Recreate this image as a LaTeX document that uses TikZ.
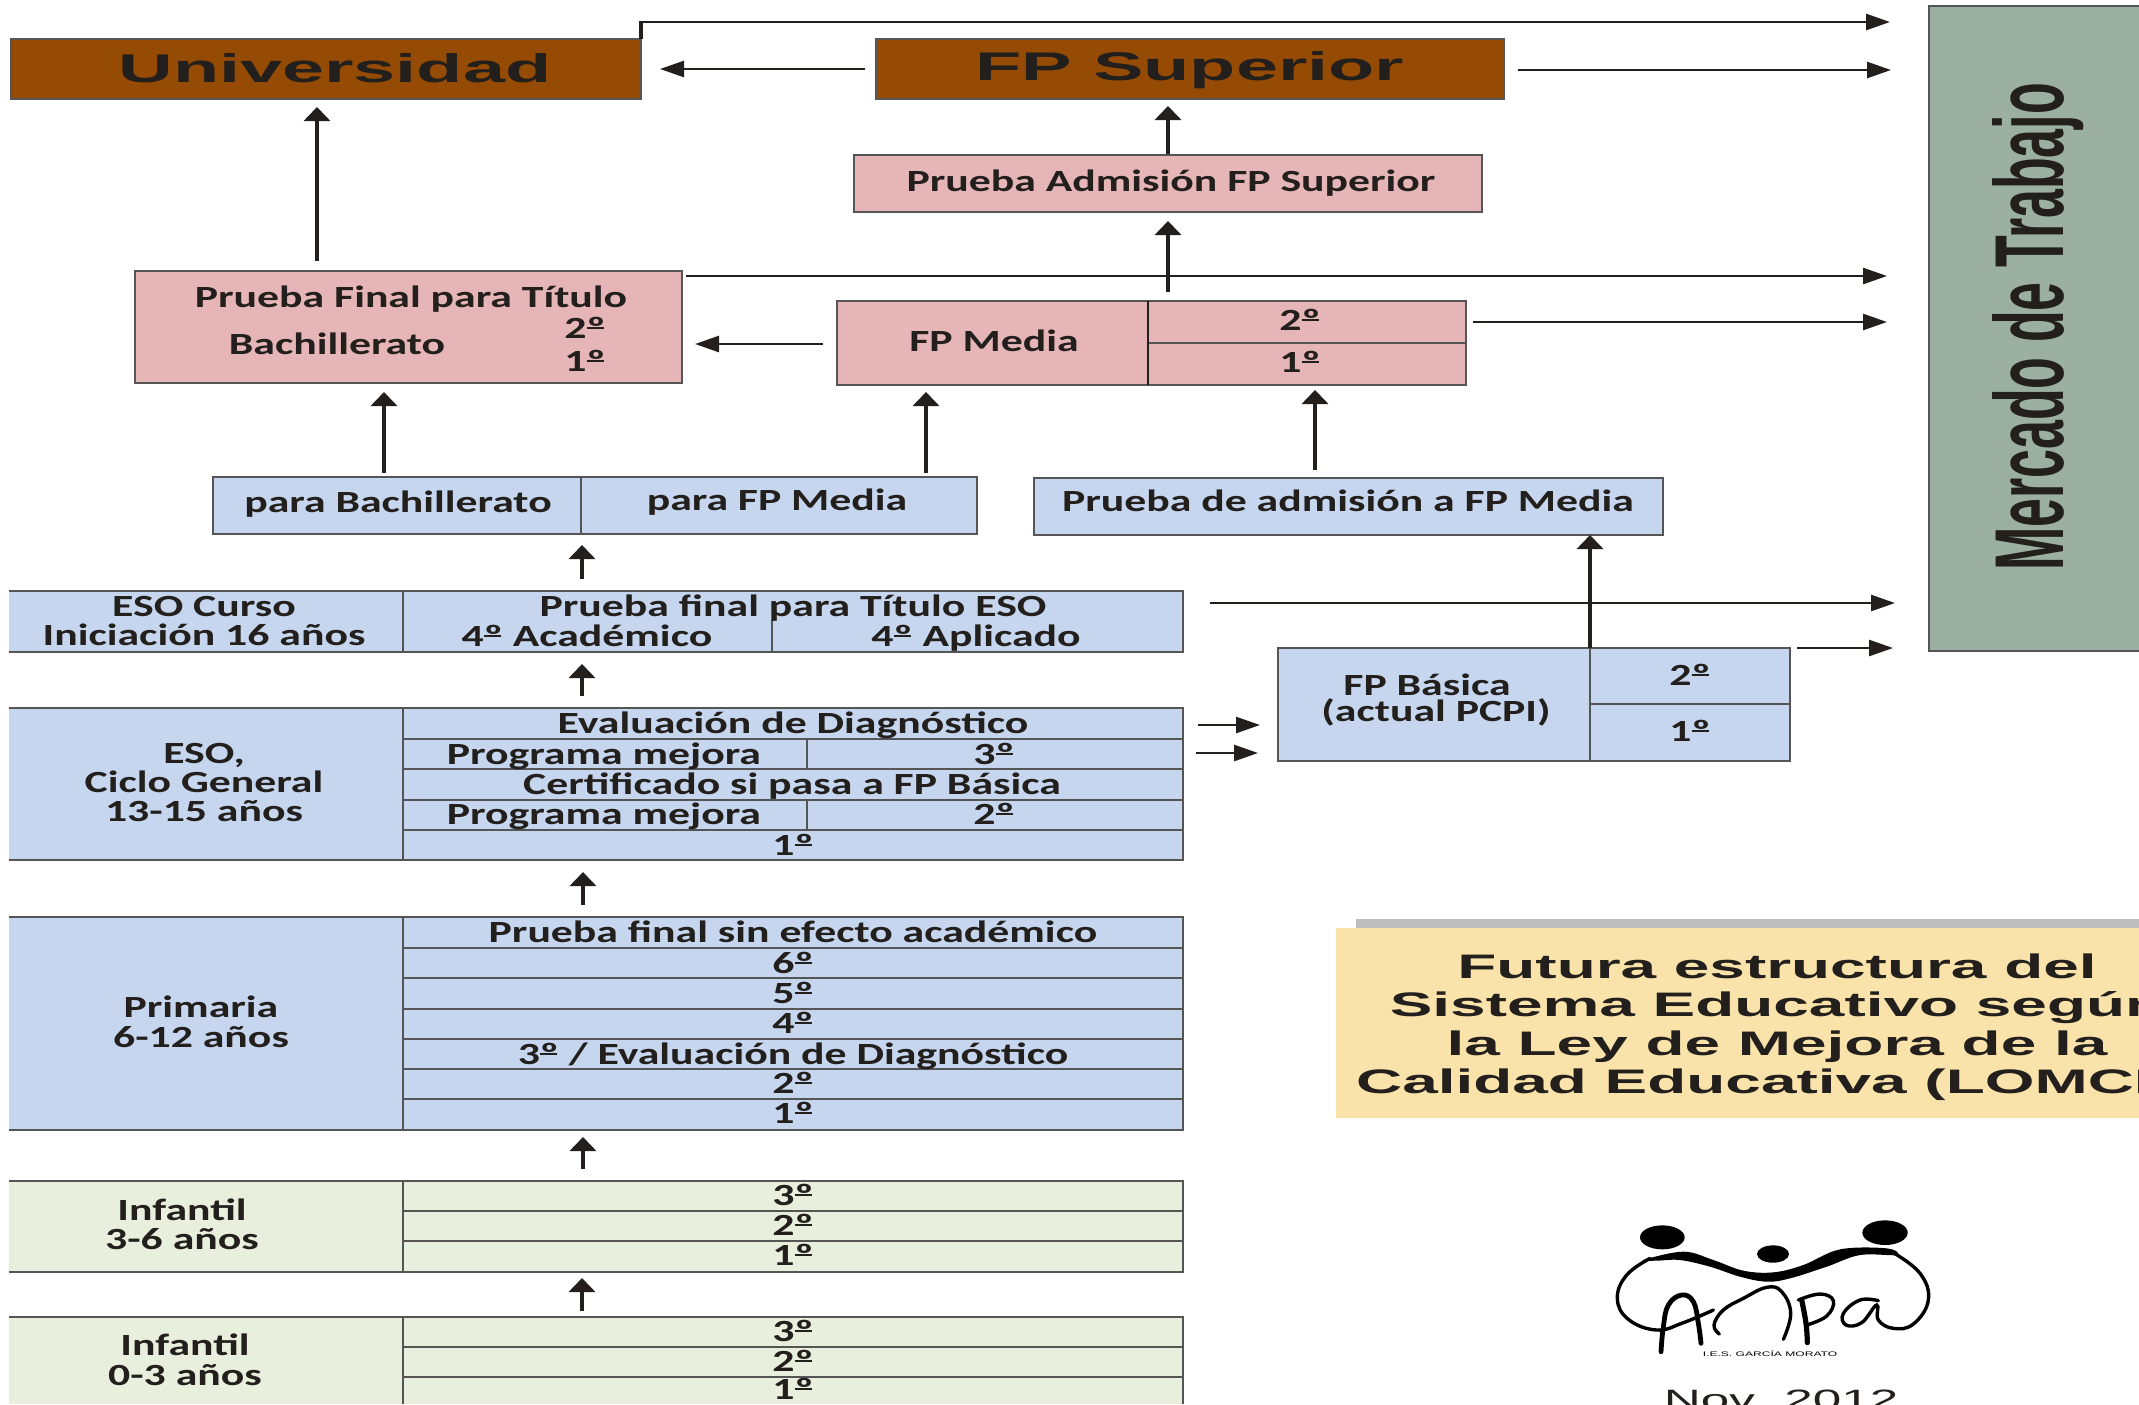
\documentclass[tikz,border=0pt]{standalone}
\usepackage{fontspec}
\usepackage{graphicx}
\setmainfont{Carlito}
\newfontfamily\bodyfont[FakeStretch=1.42,BoldFont={Carlito Bold}]{Carlito}
\newfontfamily\headfont[FakeStretch=1.89]{Liberation Sans Bold}
\newfontfamily\titlefont[FakeStretch=1.88]{Liberation Sans Bold}
\newfontfamily\datefont[FakeStretch=1.83]{Liberation Sans}
\newfontfamily\sidefont{Liberation Sans Bold}
\usetikzlibrary{arrows.meta}
\definecolor{brownbox}{HTML}{964B05}
\definecolor{pinkbox}{HTML}{E5B5B7}
\definecolor{bluebox}{HTML}{C5D6EE}
\definecolor{greenbox}{HTML}{E8EFDC}
\definecolor{sagebox}{HTML}{9BB0A0}
\definecolor{creambox}{HTML}{F9E3AB}
\definecolor{greybar}{HTML}{BEBEBE}
\definecolor{ink}{HTML}{231F1C}
\definecolor{rule}{HTML}{555555}
% ordinal sign with its bar, as the picture prints it
\newcommand{\ordn}{º\kern-.62em\rule[.30em]{.56em}{.06em}\kern.06em}
\tikzset{
  x=0.5pt,y=-0.5pt,
  panel/.style={draw=rule,line width=0.7pt},
  rowline/.style={rule,line width=0.65pt},
  lab/.style={anchor=base,inner sep=0pt,outer sep=0pt,yshift=-0.7pt,text=ink,font=\bodyfont\bfseries\fontsize{15.4}{17}\selectfont},
  head/.style={anchor=base,inner sep=0pt,outer sep=0pt,text=ink,font=\headfont\fontsize{20}{24}\selectfont},
  title/.style={anchor=base,inner sep=0pt,outer sep=0pt,text=ink,font=\titlefont\fontsize{17}{20}\selectfont},
  flow/.style={ink,line width=2pt,-{Triangle[length=7pt,width=13pt]}},
  side flow/.style={ink,line width=1.3pt,-{Triangle[length=12pt,width=8pt]}},
}
\begin{document}
\begin{tikzpicture}
\useasboundingbox (0,0) rectangle (2139,1404);
\clip (0,0) rectangle (2139,1404);
\fill[white] (0,0) rectangle (2139,1404);

% Mercado de Trabajo
\fill[sagebox] (1929,6) rectangle (2139,651);
\draw[rule,line width=0.7pt] (2139,6) -- (1929,6) -- (1929,651) -- (2139,651);
\node[inner sep=0pt,rotate=90,anchor=base,text=ink] (mercado) at (2063,327)
  {\scalebox{0.53}[1]{\sidefont\fontsize{49}{50}\selectfont Mercado de Trabajo}};

% brown boxes
\path[fill=brownbox,panel] (11,39) rectangle (641,99);
\coordinate (uniNE) at (641,39);
\node[head] (uni) at (335,82) {Universidad};
\path[fill=brownbox,panel] (876,39) rectangle (1504,99);
\node[head] (fps) at (1190,80) {FP Superior};

% Prueba admision
\path[fill=pinkbox,panel] (854,155) rectangle (1482,212);
\node[lab] (pas) at (1171,190) {Prueba Admisión FP Superior};

% Prueba final / Bachillerato
\path[fill=pinkbox,panel] (135,271) rectangle (682,383);
\node[lab] (pf) at (411,306) {Prueba Final para Título};
\node[lab] (bach) at (337,353) {Bachillerato};
\node[lab] (b2) at (585,337) {2\ordn};
\node[lab] (b1) at (585,370) {1\ordn};

% FP Media
\path[fill=pinkbox,panel] (837,301) rectangle (1466,385);
\draw[rowline] (1148,343) -- (1466,343);
\draw[ink,line width=1.2pt] (1148,301) -- (1148,385);
\node[lab] (fpm) at (994,350) {FP Media};
\node[lab] (m2) at (1300,329) {2\ordn};
\node[lab] (m1) at (1300,371) {1\ordn};

% para ...
\path[fill=bluebox,panel] (213,477) rectangle (977,534);
\draw[rowline] (581,477) -- (581,534);
\node[lab] (pb) at (398,511) {para Bachillerato};
\node[lab] (pm) at (777,509) {para FP Media};
\path[fill=bluebox,panel] (1034,478) rectangle (1663,535);
\node[lab] (pa) at (1348,510) {Prueba de admisión a FP Media};

% ESO 4
\fill[bluebox] (9,591) rectangle (1183,652);
\draw[panel] (9,591) -- (1183,591) -- (1183,652) -- (9,652);
\draw[rowline] (403,591) -- (403,652);
\draw[rowline] (772,620) -- (772,652);
\node[lab] (e1) at (204,615) {ESO Curso};
\node[lab] (e2) at (204,644) {Iniciación 16 años};
\node[lab] (e3) at (793,615) {Prueba final para Título ESO};
\node[lab] (e4) at (587,645) {4\ordn{} Académico};
\node[lab] (e5) at (976,645) {4\ordn{} Aplicado};

% ESO general
\fill[bluebox] (9,708) rectangle (1183,860);
\draw[panel] (9,708) -- (1183,708) -- (1183,860) -- (9,860);
\draw[rowline] (403,708) -- (403,860);
\foreach \yy in {739,769,800,830} \draw[rowline] (403,\yy) -- (1183,\yy);
\draw[rowline] (807,739) -- (807,769);
\draw[rowline] (807,800) -- (807,830);
\node[lab] (g1) at (204,762) {ESO,};
\node[lab] (g2) at (204,791) {Ciclo General};
\node[lab] (g3) at (204,820) {13-15 años};
\node[lab] (g4) at (793,732) {Evaluación de Diagnóstico};
\node[lab] (g5) at (604,763) {Programa mejora};
\node[lab] (g6) at (994,763) {3\ordn};
\node[lab] (g7) at (792,793) {Certificado si pasa a FP Básica};
\node[lab] (g8) at (604,823) {Programa mejora};
\node[lab] (g9) at (994,823) {2\ordn};
\node[lab] (g10) at (793,854) {1\ordn};

% Primaria
\fill[bluebox] (9,917) rectangle (1183,1130);
\draw[panel] (9,917) -- (1183,917) -- (1183,1130) -- (9,1130);
\draw[rowline] (403,917) -- (403,1130);
\foreach \yy in {948,978,1009,1039,1069,1099} \draw[rowline] (403,\yy) -- (1183,\yy);
\node[lab] (p1) at (201,1016) {Primaria};
\node[lab] (p2) at (201,1046) {6-12 años};
\node[lab] (p3) at (793,941) {Prueba final sin efecto académico};
\node[lab] (p4) at (793,972) {6\ordn};
\node[lab] (p5) at (793,1002) {5\ordn};
\node[lab] (p6) at (793,1032) {4\ordn};
\node[lab] (p7) at (793,1063) {3\ordn{} / Evaluación de Diagnóstico};
\node[lab] (p8) at (793,1092) {2\ordn};
\node[lab] (p9) at (793,1122) {1\ordn};

% Infantil 3-6
\fill[greenbox] (9,1181) rectangle (1183,1272);
\draw[panel] (9,1181) -- (1183,1181) -- (1183,1272) -- (9,1272);
\draw[rowline] (403,1181) -- (403,1272);
\foreach \yy in {1211,1241} \draw[rowline] (403,\yy) -- (1183,\yy);
\node[lab] (i1) at (182,1219) {Infantil};
\node[lab] (i2) at (182,1248) {3-6 años};
\node[lab] (i3) at (793,1204) {3\ordn};
\node[lab] (i4) at (793,1234) {2\ordn};
\node[lab] (i5) at (793,1264) {1\ordn};

% Infantil 0-3
\fill[greenbox] (9,1317) rectangle (1183,1404);
\draw[panel] (9,1317) -- (1183,1317) -- (1183,1404);
\draw[rowline] (403,1317) -- (403,1404);
\foreach \yy in {1347,1377} \draw[rowline] (403,\yy) -- (1183,\yy);
\node[lab] (j1) at (185,1354) {Infantil};
\node[lab] (j2) at (185,1384) {0-3 años};
\node[lab] (j3) at (793,1340) {3\ordn};
\node[lab] (j4) at (793,1370) {2\ordn};
\node[lab] (j5) at (793,1398) {1\ordn};

% FP Basica
\path[fill=bluebox,panel] (1278,648) rectangle (1790,761);
\draw[rowline] (1590,648) -- (1590,761);
\draw[rowline] (1590,704) -- (1790,704);
\node[lab] (f1) at (1427,694) {FP Básica};
\node[lab] (f2) at (1436,720) {(actual PCPI)};
\node[lab] (f3) at (1690,684) {2\ordn};
\node[lab] (f4) at (1690,740) {1\ordn};

% free ends of connectors
\foreach \n/\xx/\yy in {mA/1890/22,mB/1891/70,mC/1887/276,mD/1887/322,mE/1895/603,mF/1893/648,
  a/641/22,sA/1518/70,sB/686/276,sC/1473/322,sD/1210/603,sE/1797/648,
  lA/865/69,lB/660/69,lC/823/344,lD/695/344,
  uA/317/261,uB/317/107,uC/1168/154,uD/1168/106,uE/1168/292,uF/1168/221,
  uG/384/473,uH/384/392,uI/926/473,uJ/926/392,uK/1315/470,uL/1315/390,
  uM/582/579,uN/582/545,uO/582/696,uP/582/664,uQ/583/905,uR/583/872,
  uS/583/1169,uT/583/1137,uU/582/1311,uV/582/1278,uW/1590/648,uX/1590/535,
  rA/1198/725,rB/1260/725,rC/1196/753,rD/1258/753}
  \coordinate (\n) at (\xx,\yy);

% connectors
\draw[ink,line width=2pt] (uniNE) -- (a);
\draw[side flow] (a) ++(-2,0) -- (mA);
\draw[side flow] (sA) -- (mB);
\draw[side flow] (lA) -- (lB);
\draw[flow] (uA) -- (uB);
\draw[flow] (uC) -- (uD);
\draw[side flow] (sB) -- (mC);
\draw[flow] (uE) -- (uF);
\draw[side flow] (sC) -- (mD);
\draw[side flow] (lC) -- (lD);
\draw[flow] (uG) -- (uH);
\draw[flow] (uI) -- (uJ);
\draw[flow] (uK) -- (uL);
\draw[flow] (uM) -- (uN);
\draw[flow] (uO) -- (uP);
\draw[flow] (uQ) -- (uR);
\draw[flow] (uS) -- (uT);
\draw[flow] (uU) -- (uV);
\draw[side flow] (sD) -- (mE);
\draw[side flow] (sE) -- (mF);
\draw[flow] (uW) -- (uX);
\draw[side flow] (rA) -- (rB);
\draw[side flow] (rC) -- (rD);

% title
\fill[greybar] (1356,919) rectangle (2139,928);
\fill[creambox] (1336,928) rectangle (2139,1118);
\node[title] (t1) at (1777,978) {Futura estructura del};
\node[title] (t2) at (1777,1016) {Sistema Educativo según};
\node[title] (t3) at (1777,1055) {la Ley de Mejora de la};
\node[title] (t4) at (1777,1093) {Calidad Educativa (LOMCE)};

% logo
\begin{scope}[shift={(1600,1210)},x=0.16667pt,y=-0.16667pt]
\fill[black] (187,82) ellipse [x radius=67,y radius=36];
\fill[black] (855,68) ellipse [x radius=68,y radius=37];
\fill[black] (519,132) ellipse [x radius=48,y radius=26];
\fill[black] plot[smooth cycle,tension=.6] coordinates {
  (130,150) (250,125) (340,150) (430,182) (520,187) (610,165) (720,118) (860,115)
  (890,135) (780,135) (680,170) (570,205) (500,215) (420,200) (330,170) (240,150) (170,152)};
\draw[black,line width=1.7pt,line cap=round] plot[smooth,tension=.7] coordinates {
  (150,145) (80,195) (52,265) (85,328) (170,360) (250,338) (340,300)};
\draw[black,line width=2.4pt,line cap=round] plot[smooth,tension=.7] coordinates {
  (183,425) (190,350) (205,285) (245,255) (280,275) (295,340) (303,400)};
\draw[black,line width=1.7pt,line cap=round] plot[smooth,tension=.7] coordinates {
  (358,372) (342,345) (370,300) (430,265) (500,232) (545,245) (572,310) (550,388)};
\draw[black,line width=2.6pt,line cap=round] plot[smooth,tension=.7] coordinates {
  (622,398) (618,340) (605,270)};
\draw[black,line width=1.7pt,line cap=round] plot[smooth,tension=.7] coordinates {
  (595,270) (660,252) (700,272) (680,318) (620,345)};
\draw[black,line width=1.7pt,line cap=round] plot[smooth,tension=.7] coordinates {
  (835,272) (780,270) (730,310) (738,345) (785,338) (830,285) (835,330) (880,355)
  (940,342) (985,270) (960,190) (880,128)};
\node[anchor=base,inner sep=0pt,text=black,font=\datefont\fontsize{3.3}{4}\selectfont] (ies) at (510,438) {I.E.S. GARCÍA MORATO};
\end{scope}
\node[anchor=base,inner sep=0pt,text=ink,font=\datefont\fontsize{14}{16}\selectfont] (nov) at (1781,1409) {Nov. 2012};
\end{tikzpicture}
\end{document}
